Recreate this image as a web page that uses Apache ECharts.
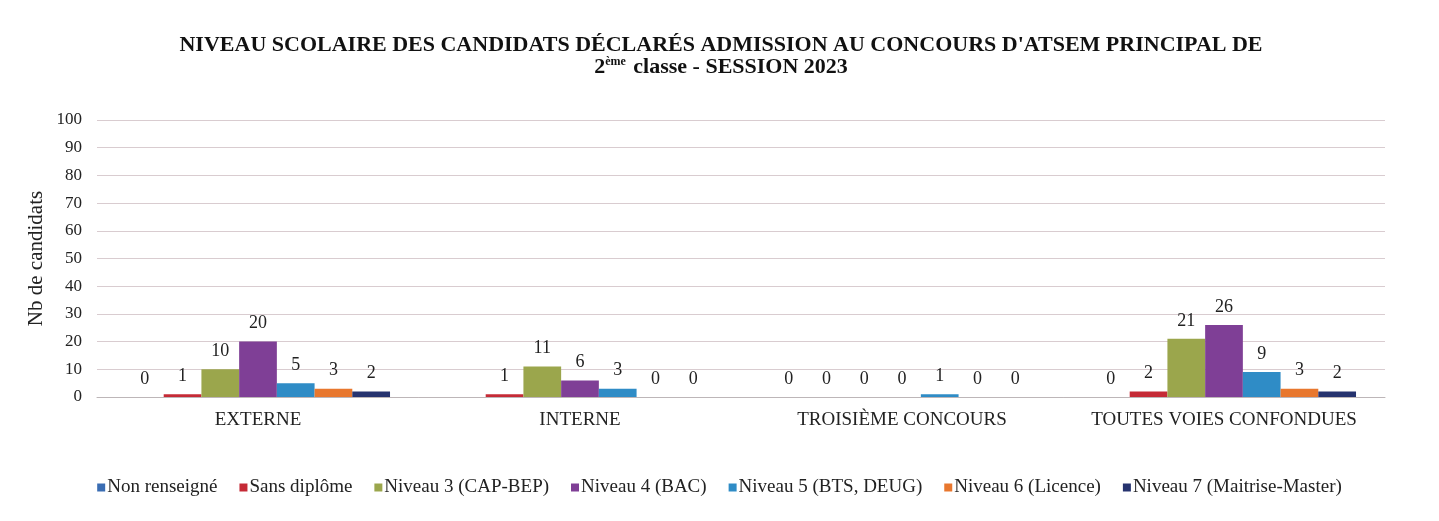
<!DOCTYPE html>
<html><head><meta charset="utf-8">
<script src="https://cdn.jsdelivr.net/npm/echarts@6/dist/echarts.min.js"></script>
<style>html,body{margin:0;padding:0;background:#fff}#c{width:1439px;height:521px}</style>
</head><body><div id="c"></div>
<script>
const categories = ['EXTERNE', 'INTERNE', 'TROISIÈME CONCOURS', 'TOUTES VOIES CONFONDUES'];
const seriesNames = ['Non renseigné', 'Sans diplôme', 'Niveau 3 (CAP-BEP)', 'Niveau 4 (BAC)', 'Niveau 5 (BTS, DEUG)', 'Niveau 6 (Licence)', 'Niveau 7 (Maitrise-Master)'];
const nonRenseigne = [0, null, 0, 0];
const sansDiplome = [1, 1, 0, 2];
const niveau3 = [10, 11, 0, 21];
const niveau4 = [20, 6, 0, 26];
const niveau5 = [5, 3, 1, 9];
const niveau6 = [3, 0, 0, 3];
const niveau7 = [2, 0, 0, 2];
const yTicks = [0, 10, 20, 30, 40, 50, 60, 70, 80, 90, 100];

const values = [nonRenseigne, sansDiplome, niveau3, niveau4, niveau5, niveau6, niveau7];
const colors = ['#3a6db3', '#c52a36', '#9ba64c', '#7f3f96', '#2f8cc6', '#e8772e', '#26336f'];
const serif = '"Liberation Serif", "DejaVu Serif", serif';

const chart = echarts.init(document.getElementById('c'));
chart.setOption({
  animation: false,
  backgroundColor: '#fff',
  color: colors,
  title: {
    text: "NIVEAU SCOLAIRE DES CANDIDATS DÉCLARÉS ADMISSION AU CONCOURS D'ATSEM PRINCIPAL DE\n{n|2}{sup|ème}{n| classe - SESSION 2023}",
    left: 716, top: 29, textAlign: 'center',
    textStyle: {
      fontFamily: serif, fontSize: 22, fontWeight: 'bold', color: '#111', lineHeight: 22,
      rich: {
        sup: {fontFamily: serif, fontSize: 12, fontWeight: 'bold', color: '#111', verticalAlign: 'top', lineHeight: 14, padding: [0,2,6,0]},
        n: {fontFamily: serif, fontSize: 22, fontWeight: 'bold', color: '#111'}
      }
    }
  },
  legend: {
    top: 473, left: 'center',
    itemWidth: 8, itemHeight: 8, itemGap: 22,
    icon: 'rect',
    textStyle: {fontFamily: serif, fontSize: 19, color: '#222', padding: [0,0,0,-3]},
    data: seriesNames
  },
  grid: {left: 97, right: 54, top: 120, bottom: 124},
  xAxis: {
    type: 'category', data: categories,
    axisTick: {show: false},
    axisLine: {lineStyle: {color: '#bdb6b8'}},
    axisLabel: {interval: 0, fontFamily: serif, fontSize: 19, color: '#222', margin: 14}
  },
  yAxis: {
    type: 'value', min: 0, max: 100, interval: 10,
    name: 'Nb de candidats', nameLocation: 'middle', nameGap: 50, nameMoveOverlap: false,
    nameTextStyle: {fontFamily: serif, fontSize: 21, color: '#222'},
    axisLine: {show: false}, axisTick: {show: false},
    axisLabel: {fontFamily: serif, fontSize: 17, color: '#222', margin: 15,
      formatter: v => yTicks.includes(v) ? String(v) : ''},
    splitLine: {lineStyle: {color: '#d9ccd0', width: 1}}
  },
  series: seriesNames.map((name, i) => ({
    name, type: 'bar', data: values[i],
    barGap: '0%', barCategoryGap: '18%',
    label: {show: true, position: 'top', distance: 9, fontFamily: serif, fontSize: 18, color: '#222'}
  }))
});
</script></body></html>
